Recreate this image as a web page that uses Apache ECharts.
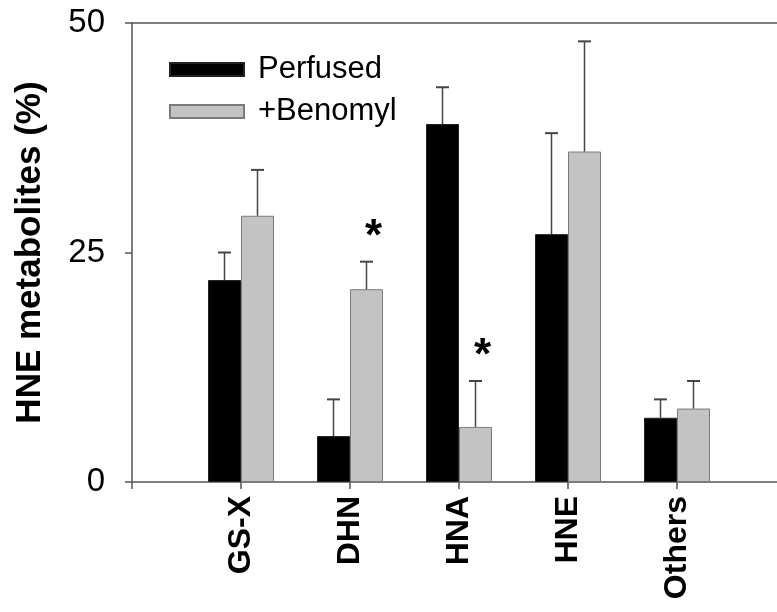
<!DOCTYPE html>
<html>
<head>
<meta charset="utf-8">
<script src="https://cdn.jsdelivr.net/npm/echarts@6/dist/echarts.min.js"></script>
<style>html,body{margin:0;padding:0;background:#fff;}#c{width:777px;height:612px;}</style>
</head>
<body>
<div id="c"></div>
<script>
// Categories (padded with empty slots at the axis ends)
var categories = ['GS-X', 'DHN', 'HNA', 'HNE', 'Others'];
var perfused = [22, 5, 39, 27, 7];
var perfusedErr = [3, 4, 4, 11, 2];
var benomyl = [29, 21, 6, 36, 8];
var benomylErr = [5, 3, 5, 12, 3];
var benomylStar = [false, true, true, false, false];
var yTicks = [0, 25, 50];

var xLabels = [''].concat(categories).concat(['']);
function pad(a) { return [null].concat(a).concat([null]); }

var errData = [];
categories.forEach(function (c, i) {
  errData.push([i + 1, perfused[i] + perfusedErr[i], perfused[i], -1, 0]);
  errData.push([i + 1, benomyl[i] + benomylErr[i], benomyl[i], 1, benomylStar[i] ? 1 : 0]);
});

var BAR_W = 33;
var chart = echarts.init(document.getElementById('c'));
chart.setOption({
  animation: false,
  backgroundColor: '#ffffff',
  textStyle: { fontFamily: 'Liberation Sans, Arial, sans-serif' },
  grid: { left: 132, width: 654, top: 23, height: 459, containLabel: false, outerBoundsMode: 'none' },
  legend: {
    orient: 'vertical', left: 164, top: 49,
    itemWidth: 74, itemHeight: 13, itemGap: 11,
    icon: 'rect',
    textStyle: { fontSize: 31, color: '#000', padding: [0, 0, 0, 9] },
    data: ['Perfused', '+Benomyl']
  },
  xAxis: [{
    type: 'category', data: xLabels, boundaryGap: false,
    axisLine: { lineStyle: { color: '#555', width: 1.5 } },
    axisTick: { show: true, interval: 0, length: 7, lineStyle: { color: '#555', width: 1.5 } },
    axisLabel: { interval: 0, rotate: 90, margin: 14, fontSize: 32, fontWeight: 'bold', color: '#000' }
  }, {
    type: 'category', data: xLabels, boundaryGap: false, position: 'top',
    axisLine: { lineStyle: { color: '#555', width: 1.5 } },
    axisTick: { show: false }, axisLabel: { show: false }
  }],
  yAxis: {
    type: 'value', min: yTicks[0], max: yTicks[yTicks.length - 1], interval: 25,
    name: 'HNE metabolites (%)', nameLocation: 'middle', nameRotate: 90, nameGap: 84,
    nameTextStyle: { fontSize: 35, fontWeight: 'bold', color: '#000' },
    axisLine: { show: true, lineStyle: { color: '#555', width: 1.5 } },
    axisTick: { show: true, length: 7, lineStyle: { color: '#555', width: 1.5 } },
    axisLabel: { fontSize: 33, color: '#000', margin: 27 },
    splitLine: { show: false }
  },
  series: [{
    name: 'Perfused', type: 'bar', data: pad(perfused), barWidth: BAR_W, barGap: '0%',
    itemStyle: { color: '#000', borderColor: '#222', borderWidth: 1 }
  }, {
    name: '+Benomyl', type: 'bar', data: pad(benomyl), barWidth: BAR_W, barGap: '0%',
    itemStyle: { color: '#c3c3c3', borderColor: '#7a7a7a', borderWidth: 1 }
  }, {
    type: 'custom', data: errData, z: 5,
    renderItem: function (params, api) {
      var top = api.coord([api.value(0), api.value(1)]);
      var base = api.coord([api.value(0), api.value(2)]);
      var x = top[0] + api.value(3) * BAR_W / 2;
      var children = [
        { type: 'line', shape: { x1: x, y1: base[1], x2: x, y2: top[1] }, style: { stroke: '#444', lineWidth: 1.5 } },
        { type: 'line', shape: { x1: x - 6.5, y1: top[1], x2: x + 6.5, y2: top[1] }, style: { stroke: '#444', lineWidth: 2 } }
      ];
      if (api.value(4)) {
        children.push({ type: 'text', x: x + 7, y: top[1] - 24,
          style: { text: '*', fontSize: 44, fontWeight: 'bold', fill: '#000', align: 'center', verticalAlign: 'middle', font: 'bold 44px Liberation Sans' } });
      }
      return { type: 'group', children: children };
    }
  }]
});
</script>
</body>
</html>
